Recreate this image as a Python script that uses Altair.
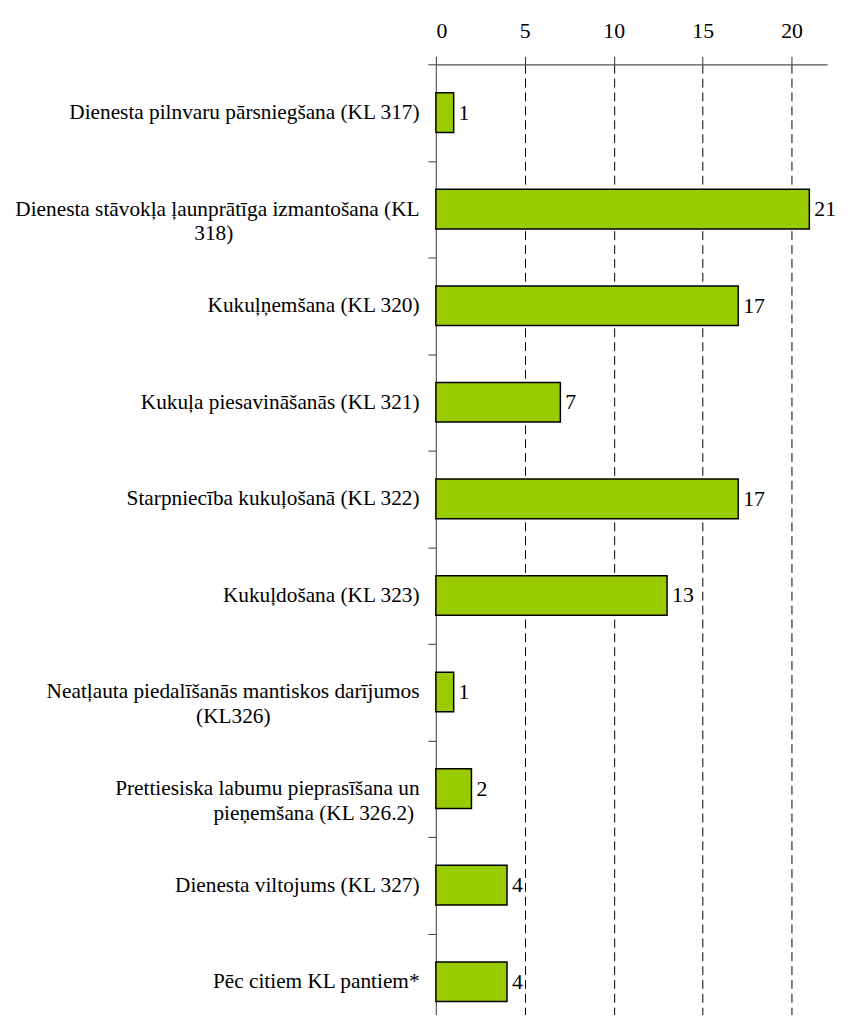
import json
import altair as alt
import pandas as pd

categories = [
    "Dienesta pilnvaru pārsniegšana (KL 317)",
    "Dienesta stāvokļa ļaunprātīga izmantošana (KL 318)",
    "Kukuļņemšana (KL 320)",
    "Kukuļa piesavināšanās (KL 321)",
    "Starpniecība kukuļošanā (KL 322)",
    "Kukuļdošana (KL 323)",
    "Neatļauta piedalīšanās mantiskos darījumos (KL326)",
    "Prettiesiska labumu pieprasīšana un pieņemšana (KL 326.2)",
    "Dienesta viltojums (KL 327)",
    "Pēc citiem KL pantiem*",
]
values = [1, 21, 17, 7, 17, 13, 1, 2, 4, 4]
x_ticks = [0, 5, 10, 15, 20]

# wrapped axis labels (second line padded with no-break spaces to look centred;
# a zero-width space at the end keeps the padding from being trimmed)
NB = "\u00a0"
ZW = "\u200b"
wrapped = {
    categories[1]: ["Dienesta stāvokļa ļaunprātīga izmantošana (KL", "318)" + NB * 35 + ZW],
    categories[6]: ["Neatļauta piedalīšanās mantiskos darījumos", "(KL326)" + NB * 28 + ZW],
    categories[7]: ["Prettiesiska labumu pieprasīšana un", "pieņemšana (KL 326.2)" + NB * 1 + ZW],
}
expr = "datum.value"
for k, v in wrapped.items():
    expr = f"datum.value == {json.dumps(k, ensure_ascii=False)} ? {json.dumps(v, ensure_ascii=False)} : ({expr})"

df = pd.DataFrame({"cat": categories, "val": values})

FONT = "Liberation Serif"
FS_LABEL = 21.5
FS = 22

y_enc = alt.Y(
    "cat:N",
    sort=categories,
    scale=alt.Scale(range=[0, 975], paddingInner=0, paddingOuter=0),
    axis=alt.Axis(
        title=None,
        tickBand="extent",
        tickSize=8,
        tickColor="#333333",
        domainColor="#666666",
        domainWidth=1.3,
        labelFont=FONT,
        labelFontSize=FS_LABEL,
        labelColor="black",
        labelPadding=9,
        labelLineHeight=25,
        labelLimit=0,
        labelExpr=expr,
        grid=False,
    ),
)

x_enc = alt.X(
    "val:Q",
    scale=alt.Scale(domain=[0, 22], nice=False, zero=True),
    axis=alt.Axis(
        title=None,
        orient="top",
        values=x_ticks,
        tickSize=8,
        tickColor="#333333",
        domainColor="#555555",
        domainWidth=1.3,
        labelFont=FONT,
        labelFontSize=FS,
        labelColor="black",
        labelPadding=14,
        grid=True,
        gridColor="black",
        gridDash=[9, 5],
        gridWidth=1,
        gridOpacity={"condition": {"test": "datum.value === 0", "value": 0}, "value": 1},
    ),
)

base = alt.Chart(df)
bars = base.mark_bar(size=40, color="#99CC00", stroke="black", strokeWidth=1.5).encode(x=x_enc, y=y_enc)
labels = base.mark_text(align="left", baseline="middle", dx=5, font=FONT, fontSize=FS, color="black").encode(
    x="val:Q", y=alt.Y("cat:N", sort=categories), text="val:Q"
)

chart = (
    alt.layer(bars, labels)
    .properties(
        width=395,
        height=955,
        autosize=alt.AutoSizeParams(type="none"),
        padding={"left": 432, "top": 52, "right": 12, "bottom": 0},
        background="white",
    )
    .configure_view(stroke=None)
)

chart.save("out.html", embed_options={"renderer": "svg", "actions": False})
